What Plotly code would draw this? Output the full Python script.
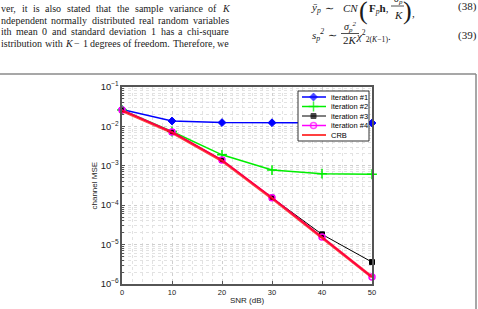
import plotly.graph_objects as go

# ---------------- data ----------------
snr = [0, 10, 20, 30, 40, 50]
iter1 = [0.027, 0.0137, 0.0125, 0.0124, 0.0123, 0.0122]
iter2 = [0.026, 0.0074, 0.0019, 0.00078, 0.00063, 0.00061]
iter3 = [0.026, 0.0072, 0.0014, 0.000155, 0.0000182, 0.0000036]
iter4 = [0.026, 0.0072, 0.0014, 0.000155, 0.0000155, 0.0000015]
crb = [0.025, 0.0070, 0.00135, 0.00015, 0.0000150, 0.0000015]
names = ["iteration #1", "iteration #2", "iteration #3", "iteration #4", "CRB"]
xlabel = "SNR (dB)"
ylabel = "channel MSE"

text_lines = [
    ["ver,", "it", "is", "also", "stated", "that", "the", "sample", "variance", "of", "<i>K</i>"],
    ["ndependent", "normally", "distributed", "real", "random", "variables"],
    ["ith", "mean", "0", "and", "standard", "deviation", "1", "has", "a", "chi-square"],
    ["istribution", "with", "<i>K</i>", "−", "1", "degrees", "of", "freedom.", "Therefore,", "we"],
]

# ---------------- geometry helpers ----------------
W, H = 478, 309
L, R, T, B = 122, 372, 87, 284


def px(x):
    return (x - L) / (R - L)


def py(y):
    return (B - y) / (B - T)


styles = [
    dict(color="#0000ff", width=1.5, symbol="diamond", msize=6, mline=1),
    dict(color="#00ee00", width=1.5, symbol="cross-thin", msize=7, mline=1.5),
    dict(color="#000000", width=1.0, symbol="square", msize=5, mline=1),
    dict(color="#ff00ff", width=1.5, symbol="circle-open", msize=6, mline=1.5),
    dict(color="#ff0000", width=2.8, symbol=None, msize=0, mline=0),
]
series = [iter1, iter2, iter3, iter4, crb]

fig = go.Figure()
for i, (ys, st) in enumerate(zip(series, styles)):
    kw = {}
    if st["symbol"]:
        kw["marker"] = dict(symbol=st["symbol"], size=st["msize"], color=st["color"],
                            line=dict(color=st["color"], width=st["mline"]))
        mode = "lines+markers"
    else:
        mode = "lines"
    fig.add_trace(go.Scatter(
        x=snr, y=ys, mode=mode, name=names[i], cliponaxis=False,
        line=dict(color=st["color"], width=st["width"]),
        opacity=0.75 if i == 4 else 1.0,
        showlegend=False, **kw))

# ---------------- manual legend (overlay axes in paper units) ----------------
leg_x0, leg_x1, leg_y0, leg_y1 = 298, 369, 91, 141
entry_y = [97, 106.5, 116, 125.5, 135]
fig.add_trace(go.Scatter(
    x=[px(leg_x0), px(leg_x1), px(leg_x1), px(leg_x0), px(leg_x0)],
    y=[py(leg_y0), py(leg_y0), py(leg_y1), py(leg_y1), py(leg_y0)],
    mode="lines", fill="toself", fillcolor="white",
    line=dict(color="#333", width=1), xaxis="x2", yaxis="y2",
    showlegend=False, hoverinfo="skip"))
for i, st in enumerate(styles):
    yy = py(entry_y[i])
    xs = [px(302), px(313.5), px(326)]
    kw = {}
    if st["symbol"]:
        kw["marker"] = dict(symbol=st["symbol"], size=[0, st["msize"], 0], color=st["color"],
                            line=dict(color=st["color"], width=st["mline"]))
        mode = "lines+markers"
    else:
        mode = "lines"
    fig.add_trace(go.Scatter(
        x=xs, y=[yy] * 3, mode=mode, xaxis="x2", yaxis="y2",
        line=dict(color=st["color"], width=min(st["width"], 1.5)),
        showlegend=False, hoverinfo="skip", **kw))
    fig.add_annotation(x=px(329), y=yy, xref="paper", yref="paper", text=names[i],
                       showarrow=False, xanchor="left", yanchor="middle",
                       font=dict(family="Liberation Sans, Arial", size=7.5, color="#000"))

shapes = [
    dict(type="line", xref="paper", yref="paper", x0=px(-5), x1=px(476),
         y0=py(74), y1=py(74), line=dict(color="#8a8a8a", width=1.5)),
    dict(type="line", xref="paper", yref="paper", x0=px(476), x1=px(476),
         y0=py(74), y1=py(315), line=dict(color="#8a8a8a", width=1.5)),
]

# ---------------- paper text (justified, Times metrics) ----------------
serif = "Liberation Serif, Times New Roman, serif"
TW = {' ': 250, ',': 250, '-': 333, '.': 250, '−': 564,
      'A': 722, 'B': 667, 'C': 667, 'D': 722, 'E': 611, 'F': 556, 'G': 722, 'H': 722,
      'I': 333, 'J': 389, 'K': 722, 'L': 611, 'M': 889, 'N': 722, 'O': 722, 'P': 556,
      'Q': 722, 'R': 667, 'S': 556, 'T': 611, 'U': 722, 'V': 722, 'W': 944, 'X': 722,
      'Y': 722, 'Z': 611,
      'a': 444, 'b': 500, 'c': 444, 'd': 500, 'e': 444, 'f': 333, 'g': 500, 'h': 500,
      'i': 278, 'j': 278, 'k': 500, 'l': 278, 'm': 778, 'n': 500, 'o': 500, 'p': 500,
      'q': 500, 'r': 333, 's': 389, 't': 278, 'u': 500, 'v': 500, 'w': 722, 'x': 500,
      'y': 500, 'z': 444}
for d in "0123456789":
    TW[d] = 500

FS = 10.0
TEXT_L, TEXT_R = 0.0, 228.0
line_y = [8, 20, 32, 44]


def word_width(w):
    if w == "<i>K</i>":
        return 667 * FS / 1000
    return sum(TW.get(c, 500) for c in w) * FS / 1000


def piece(x, y, t, size=11, anchor="center"):
    fig.add_annotation(x=px(x), y=py(y), xref="paper", yref="paper", text=t,
                       showarrow=False, xanchor=anchor, yanchor="middle", borderpad=0,
                       font=dict(family=serif, size=size, color="#1a1a1a"))


for words, yy in zip(text_lines, line_y):
    widths = [word_width(w) for w in words]
    gap = (TEXT_R - TEXT_L - sum(widths)) / (len(words) - 1)
    x = TEXT_L
    for w, ww in zip(words, widths):
        piece(x, yy, w, size=FS, anchor="left")
        x += ww + gap

# equation (38)
piece(316, 8, "<i>ȳ<sub>p</sub></i>")
piece(329, 8, "∼")
piece(350, 8, "<i>CN</i>", size=11)
piece(363, 11, "(", size=26)
piece(379, 9, "<b>F</b><i><sub>p</sub></i><b>h</b>,")
piece(398, 0, "<i>σ<sub>p</sub></i>", size=10)
piece(398, 15, "<i>K</i>", size=11)
piece(407, 11, ")", size=26)
piece(413, 13, ",")
piece(467, 7, "(38)")
shapes.append(dict(type="line", xref="paper", yref="paper", x0=px(391), x1=px(404),
                   y0=py(6), y1=py(6), line=dict(color="#222", width=0.8)))
# equation (39)
piece(318, 35, "<i>s<sub>p</sub><sup>2</sup></i>")
piece(332, 35, "∼")
piece(350, 27, "<i>σ<sub>p</sub><sup>2</sup></i>", size=10)
piece(350, 40, "2<i>K</i>", size=11)
piece(373, 36, "<i>χ</i><sup>2</sup><sub>2(<i>K</i>−1)</sub>.")
piece(467, 35, "(39)")
shapes.append(dict(type="line", xref="paper", yref="paper", x0=px(341), x1=px(359),
                   y0=py(33.5), y1=py(33.5), line=dict(color="#222", width=0.8)))

# axis titles as annotations (keep plot area fixed)
title_font = dict(family="Liberation Sans, Arial", size=8, color="#222")
fig.add_annotation(x=0.5, y=py(300), xref="paper", yref="paper", text=xlabel,
                   showarrow=False, xanchor="center", yanchor="middle", font=title_font)
fig.add_annotation(x=px(94), y=0.5, xref="paper", yref="paper", text=ylabel, textangle=-90,
                   showarrow=False, xanchor="center", yanchor="middle", font=title_font)

# ---------------- axes ----------------
grid_col = "#cfcfcf"
minor_col = "#e2e2e2"
axis_font = dict(family="Liberation Sans, Arial", size=7.5, color="#222")
fig.update_layout(
    width=W, height=H,
    margin=dict(l=L, r=W - R, t=T, b=H - B, pad=0),
    paper_bgcolor="white", plot_bgcolor="white",
    shapes=shapes,
    xaxis=dict(range=[0, 50], dtick=10, tick0=0, showgrid=True, gridcolor=grid_col,
               griddash="dot", gridwidth=1, zeroline=False, automargin=False,
               showline=True, linecolor="#555", linewidth=1.5, mirror=True,
               ticks="inside", ticklen=3, tickcolor="#555", tickfont=axis_font,
               minor=dict(dtick=2, showgrid=True, gridcolor=minor_col, griddash="dot")),
    yaxis=dict(type="log", range=[-6, -1], dtick=1, showgrid=True, gridcolor=grid_col,
               griddash="dot", gridwidth=1, zeroline=False, exponentformat="power",
               automargin=False,
               showline=True, linecolor="#555", linewidth=1.5, mirror=True,
               ticks="inside", ticklen=3, tickcolor="#555", tickfont=axis_font,
               minor=dict(dtick="D1", showgrid=True, gridcolor=minor_col, griddash="dot",
                          ticks="inside", ticklen=2, tickcolor="#555")),
    xaxis2=dict(overlaying="x", range=[0, 1], visible=False),
    yaxis2=dict(overlaying="y", range=[0, 1], visible=False),
)

fig.write_html("out.html")
